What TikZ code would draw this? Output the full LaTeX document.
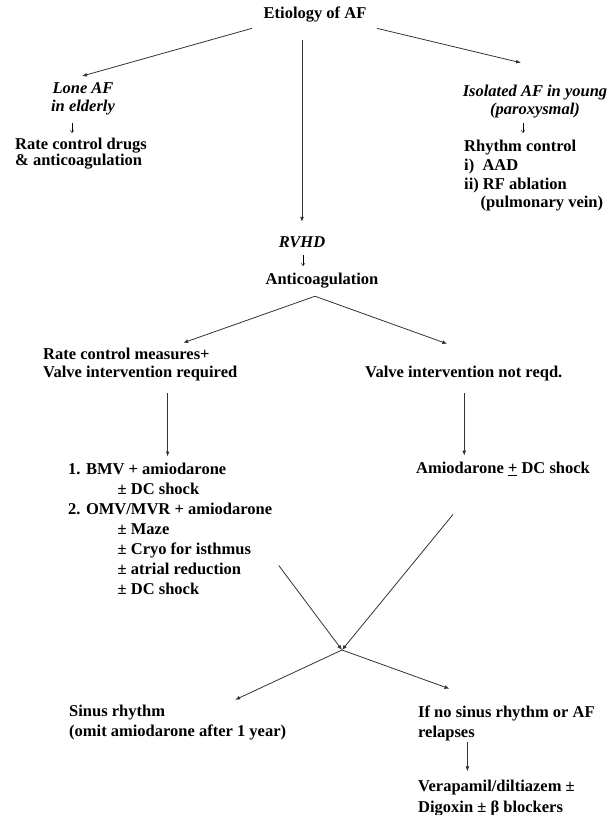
\documentclass[tikz,border=0pt]{standalone}
\usepackage{fontspec}
\setmainfont{Liberation Serif}
\usetikzlibrary{arrows.meta,calc}
\tikzset{
  txt/.style={font=\bfseries\fontsize{16.5}{18}\selectfont, inner sep=0pt, align=left},
  ital/.style={txt, font=\bfseries\itshape\fontsize{16.5}{18}\selectfont, align=center},
  arr/.style={-{Latex[length=5pt,width=4pt]}, line width=0.8pt, black!80},
  darr/.style={-{To[length=2.5pt,width=4pt]}, line width=0.5pt},
}

\begin{document}
\begin{tikzpicture}[x=1pt,y=-1pt]
  \useasboundingbox (0,0) rectangle (613,815);
  \node[txt] (etio) at (315,15) {Etiology of AF};
  \node[ital] (lone) at (83,99) {Lone AF\\in elderly};
  \node[txt,anchor=west,font=\bfseries\fontsize{16.5}{16}\selectfont] (ratedrug) at (15,154) {Rate control drugs\\\& anticoagulation};
  \node[ital] (isol) at (535,102) {Isolated AF in young\\(paroxysmal)};
  \node[txt,anchor=west,font=\bfseries\fontsize{16.5}{18.7}\selectfont] (rhythm) at (464,176) {Rhythm control\\i)\ \ AAD\\ii) RF ablation\\\hspace*{1em}(pulmonary vein)};
  \node[ital] (rvhd) at (302,242) {RVHD};
  \node[txt] (antico) at (322,281) {Anticoagulation};
  \node[txt,anchor=west] (ratemeas) at (43,365) {Rate control measures+\\Valve intervention required};
  \node[txt,anchor=west] (valvenot) at (365,374) {Valve intervention not reqd.};
  \node[txt,anchor=west,font=\bfseries\fontsize{16.5}{20}\selectfont] (bmv) at (68,529)
    {1. BMV + amiodarone\\\hspace*{3em}± DC shock\\2. OMV/MVR + amiodarone\\\hspace*{3em}± Maze\\\hspace*{3em}± Cryo for isthmus\\\hspace*{3em}± atrial reduction\\\hspace*{3em}± DC shock};
  \node[txt,anchor=west] (amio) at (416,469) {Amiodarone \underline{+} DC shock};
  \node[txt,anchor=west,font=\bfseries\fontsize{16.5}{20}\selectfont] (sinus) at (69,723) {Sinus rhythm\\(omit amiodarone after 1 year)};
  \node[txt,anchor=west,font=\bfseries\fontsize{16.5}{20}\selectfont] (nosinus) at (418,723) {If no sinus rhythm or AF\\relapses};
  \node[txt,anchor=west,font=\bfseries\fontsize{16.5}{21}\selectfont] (vera) at (418,798) {Verapamil/diltiazem ±\\Digoxin ± β blockers};

  \coordinate (split) at ($(antico.south)+(-7,7.5)$);
  \coordinate (fromlist) at ($(bmv.south east)+(6.5,-29.5)$);
  \coordinate (fromamio) at ($(amio.south)+(-50,38.5)$);
  \coordinate (merge) at (342,650);

  \draw[arr] ($(etio.south west)+(-11.5,5.5)$) -- ($(lone.north)+(-1,-6.5)$);
  \draw[arr] ($(etio.south east)+(10.5,5.5)$) -- ($(isol.north)+(-14,-22.5)$);
  \draw[arr] ($(etio.south -| rvhd.north)+(0,17.5)$) -- ($(rvhd.north)+(0,-14.5)$);
  \draw[darr] ($(lone.south)+(-11,7.5)$) -- ($(lone.south |- ratedrug.north)+(-11,-5.5)$);
  \draw[darr] ($(isol.south)+(-12,4.5)$) -- ($(isol.south |- rhythm.north)+(-12,-7.5)$);
  \draw[darr] ($(rvhd.south)+(1,7.5)$) -- ($(rvhd.south |- antico.north)+(1,-7.5)$);
  \draw[arr] (split) -- ($(ratemeas.north)+(43,-5.5)$);
  \draw[arr] (split) -- ($(valvenot.north)+(-16.5,-22.5)$);
  \draw[arr] ($(bmv.north |- ratemeas.south)+(-2.5,11.5)$) -- ($(bmv.north)+(-2.5,-6.5)$);
  \draw[arr] ($(valvenot.south)+(0.5,11.5)$) -- ($(valvenot.south |- amio.north)+(0.5,-6.5)$);
  \draw[arr] (fromlist) -- (merge);
  \draw[arr] (fromamio) -- (merge);
  \draw[arr] (merge) -- ($(sinus.north)+(57.5,-5.5)$);
  \draw[arr] (merge) -- ($(nosinus.north)+(-57,-16.5)$);
  \draw[arr] ($(nosinus.south)+(-39,1)$) -- ($(nosinus.south |- vera.north)+(-39,-8.5)$);
\end{tikzpicture}
\end{document}
